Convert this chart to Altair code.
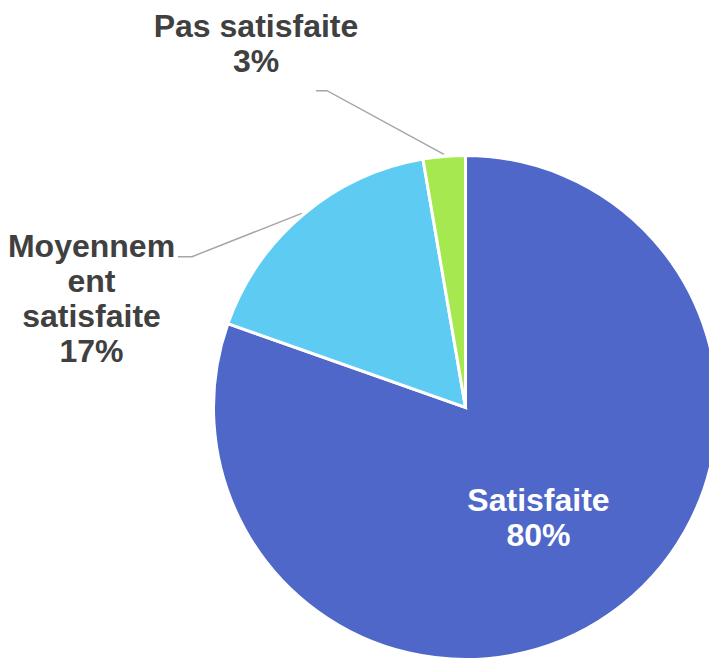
import math
import altair as alt
import pandas as pd

# ---- data ----
categories = ["Satisfaite", "Moyennement satisfaite", "Pas satisfaite"]
values = [80.4, 16.9, 2.7]
pct_labels = ["80%", "17%", "3%"]
label_names = ["Satisfaite", "Moyennem\nent\nsatisfaite", "Pas satisfaite"]
colors = ["#4F67C8", "#5DCBF2", "#A6E84F"]

# ---- layout ----
W, H = 701, 651
CX, CY, R = 457.5, 399.5, 252
LEADER_R = 254
label_pos = {  # x center, first-line baseline (svg coords)
    "Satisfaite": (530.5, 503),
    "Moyennement satisfaite": (83.5, 249),
    "Pas satisfaite": (248, 29),
}
label_color = {"Satisfaite": "white", "Moyennement satisfaite": "#404040", "Pas satisfaite": "#404040"}
leader_start = {  # horizontal stub: start x, elbow x, y
    "Moyennement satisfaite": (170, 184, 248.7),
    "Pas satisfaite": (308, 319, 82.7),
}

df = pd.DataFrame({"cat": categories, "value": values, "order": list(range(len(categories)))})

total = sum(values)
cum = 0.0
mids = {}
for c, v in zip(categories, values):
    mids[c] = (cum + v / 2) / total * 2 * math.pi
    cum += v

lab = pd.DataFrame({
    "cat": categories,
    "text": [f"{n}\n{p}" for n, p in zip(label_names, pct_labels)],
    "x": [label_pos[c][0] for c in categories],
    "y": [label_pos[c][1] for c in categories],
    "col": [label_color[c] for c in categories],
})

rows = []
for c, (x0, x1, y0) in leader_start.items():
    a = mids[c]
    ex = CX + LEADER_R * math.sin(a)
    ey = CY - LEADER_R * math.cos(a)
    rows += [
        {"cat": c, "i": 0, "x": x0, "y": y0},
        {"cat": c, "i": 1, "x": x1, "y": y0},
        {"cat": c, "i": 2, "x": ex, "y": ey},
    ]
lead = pd.DataFrame(rows)

pie = alt.Chart(df).mark_arc(radius=R, stroke="white", strokeWidth=3).encode(
    theta=alt.Theta("value:Q", stack=True),
    color=alt.Color("cat:N", scale=alt.Scale(domain=categories, range=colors), legend=None),
    order=alt.Order("order:Q"),
    x=alt.value(CX),
    y=alt.value(CY),
)

leaders = alt.Chart(lead).mark_line(color="#A6A6A6", strokeWidth=1.5).encode(
    x=alt.X("x:Q", scale=None, axis=None),
    y=alt.Y("y:Q", scale=None, axis=None),
    detail="cat:N",
    order="i:Q",
)

texts = alt.Chart(lab).mark_text(
    font="Liberation Sans", fontWeight="bold", fontSize=32, lineHeight=35,
    lineBreak="\n", align="center", baseline="alphabetic",
).encode(
    x=alt.X("x:Q", scale=None, axis=None),
    y=alt.Y("y:Q", scale=None, axis=None),
    text="text:N",
    color=alt.Color("col:N", scale=None, legend=None),
)

chart = alt.layer(pie, leaders, texts).properties(
    width=W, height=H, padding=0, autosize=alt.AutoSizeParams(type="none"),
).configure_view(stroke=None)

chart.save("out.html", embed_options={"renderer": "svg", "actions": False})
